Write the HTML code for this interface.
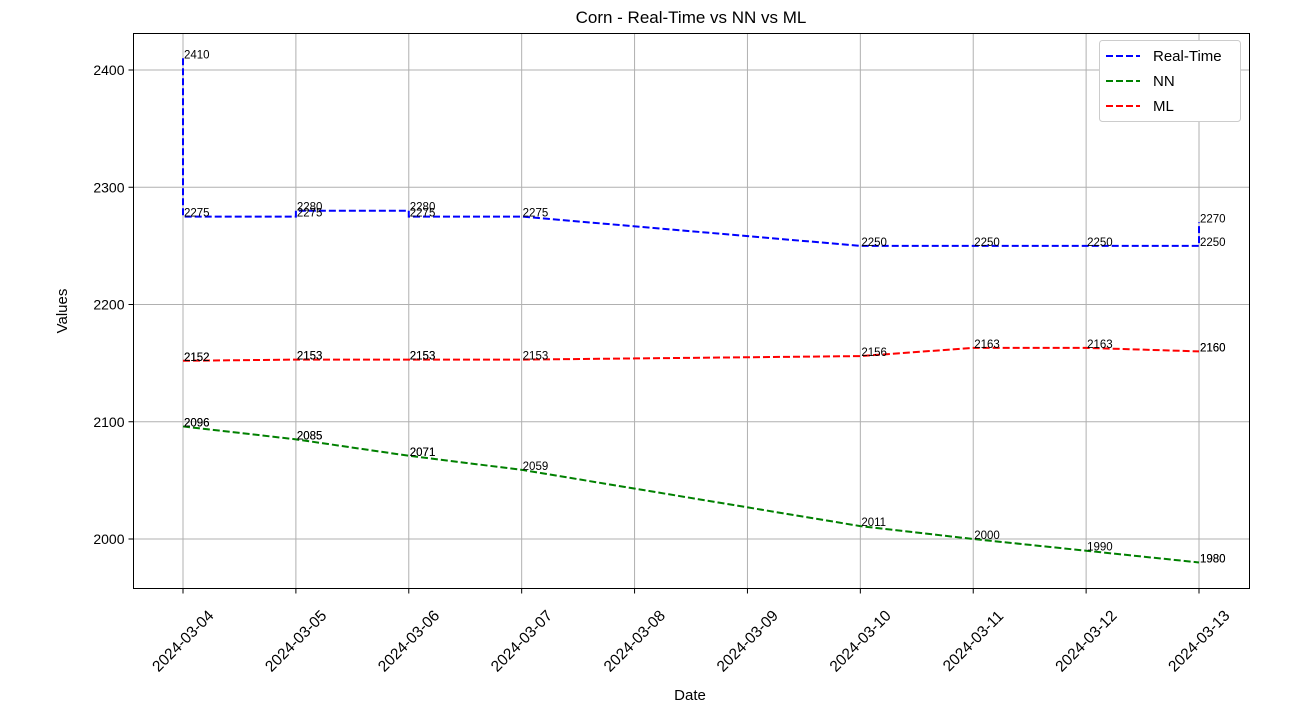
<!DOCTYPE html>
<html><head><meta charset="utf-8"><style>
body{margin:0;background:#fff;}
svg{font-family:"Liberation Sans","DejaVu Sans",sans-serif;}
</style></head><body>
<svg id="chart" width="1312" height="703"></svg>
<script>
const categories=['2024-03-04','2024-03-05','2024-03-06','2024-03-07','2024-03-08','2024-03-09','2024-03-10','2024-03-11','2024-03-12','2024-03-13'];
const yTicks=[2000,2100,2200,2300,2400];
const rtDates=['2024-03-04','2024-03-04','2024-03-05','2024-03-05','2024-03-06','2024-03-06','2024-03-07','2024-03-10','2024-03-11','2024-03-12','2024-03-13','2024-03-13'];
const rtValues=[2410,2275,2275,2280,2280,2275,2275,2250,2250,2250,2250,2270];
const predDates=['2024-03-04','2024-03-04','2024-03-05','2024-03-05','2024-03-06','2024-03-06','2024-03-07','2024-03-10','2024-03-11','2024-03-12','2024-03-13','2024-03-13'];
const nnValues=[2096,2096,2085,2085,2071,2071,2059,2011,2000,1990,1980,1980];
const mlValues=[2152,2152,2153,2153,2153,2153,2153,2156,2163,2163,2160,2160];

const NS='http://www.w3.org/2000/svg';
const svg=document.getElementById('chart');
const L=133.5,R=1249.5,T=33.5,B=588.5;
function xScale(d){return 183+categories.indexOf(d)*112.89;}
function yScale(v){return 539-(v-2000)*1.1725;}
function mk(tag,attrs,parent){const e=document.createElementNS(NS,tag);for(const k in attrs)e.setAttribute(k,attrs[k]);(parent||svg).appendChild(e);return e;}

categories.forEach(c=>{const x=xScale(c);
 const g=mk('line',{x1:x,x2:x,y1:T,y2:B,stroke:'#b0b0b0','stroke-width':1});
 
 
 mk('line',{x1:x,x2:x,y1:B,y2:B+5,stroke:'#000'});
 const cy=641;
 const t=mk('text',{x:x,y:cy+5,'font-size':15.5,'text-anchor':'middle',transform:`rotate(-45 ${x} ${cy})`});
 t.textContent=c;
 
 
});
yTicks.forEach(v=>{const y=yScale(v);
 const g=mk('line',{x1:L,x2:R,y1:y,y2:y,stroke:'#b0b0b0','stroke-width':1});
 
 
 mk('line',{x1:L-5,x2:L,y1:y,y2:y,stroke:'#000'});
 const t=mk('text',{x:L-9,y:y+5,'font-size':14,'text-anchor':'end'});
 t.textContent=v;
 
 
});

function series(dates,vals,color,name){
 const pts=dates.map((d,i)=>xScale(d)+','+yScale(vals[i])).join(' ');
 const p=mk('polyline',{points:pts,fill:'none',stroke:color,'stroke-width':2,'stroke-dasharray':'7,3'});
 
 
 dates.forEach((d,i)=>{
  const t=mk('text',{x:xScale(d)+1,y:yScale(vals[i]),'font-size':11.5,fill:'#000'});
  t.textContent=vals[i];
  
  
 });
}
series(rtDates,rtValues,'#0000ff','real-time');
series(predDates,nnValues,'#008000','nn');
series(predDates,mlValues,'#ff0000','ml');

const frame=mk('rect',{x:L,y:T,width:R-L,height:B-T,fill:'none',stroke:'#000','stroke-width':1});



const title=mk('text',{x:691,y:23,'font-size':17,'text-anchor':'middle'});
title.textContent='Corn - Real-Time vs NN vs ML';


const xl=mk('text',{x:690,y:700,'font-size':15,'text-anchor':'middle'});
xl.textContent='Date';


const yl=mk('text',{x:67,y:311,'font-size':15,'text-anchor':'middle',transform:'rotate(-90 67 311)'});
yl.textContent='Values';



const lg=mk('g',{});


mk('rect',{x:1099.5,y:40.5,width:141,height:81,rx:3,fill:'#fff',stroke:'#ccc'},lg);
[['Real-Time','#0000ff'],['NN','#008000'],['ML','#ff0000']].forEach((e,i)=>{
 const y=56+i*25;
 const g=mk('g',{},lg);
 
 
 mk('line',{x1:1106,x2:1140,y1:y,y2:y,stroke:e[1],'stroke-width':2,'stroke-dasharray':'7,3'},g);
 const t=mk('text',{x:1153,y:y+5,'font-size':15},g);t.textContent=e[0];
});
</script>
</body></html>
